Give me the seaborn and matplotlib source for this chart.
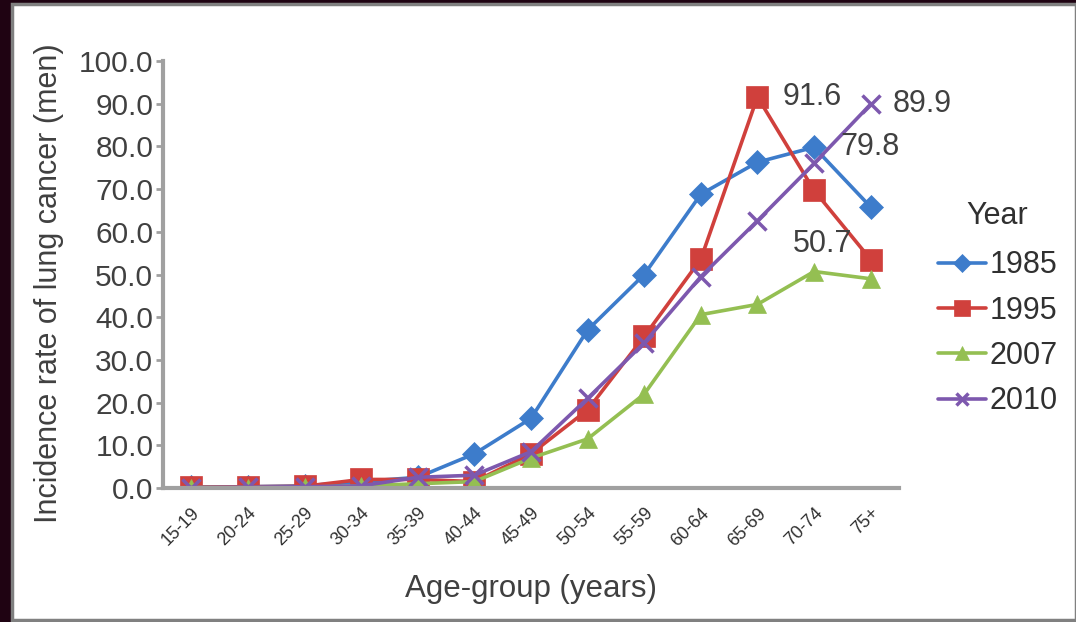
import matplotlib
matplotlib.use("Agg")
import matplotlib.pyplot as plt
from matplotlib.patches import Rectangle
import seaborn as sns
import pandas as pd

# age groups on the x axis
age_groups = ["15-19", "20-24", "25-29", "30-34", "35-39", "40-44", "45-49",
              "50-54", "55-59", "60-64", "65-69", "70-74", "75+"]

# incidence rate per year
rate_1985 = [0.2, 0.3, 0.5, 1.5, 2.5, 8.0, 16.3, 37.0, 50.0, 68.8, 76.3, 79.8, 65.8]
rate_1995 = [0.2, 0.3, 0.4, 2.0, 2.0, 1.5, 8.0, 18.3, 35.5, 53.6, 91.6, 69.7, 53.5]
rate_2007 = [0.1, 0.1, 0.2, 0.5, 1.0, 1.5, 7.0, 11.5, 22.0, 40.6, 43.0, 50.7, 49.0]
rate_2010 = [0.1, 0.2, 0.3, 0.5, 2.5, 3.0, 8.5, 21.0, 34.0, 49.5, 62.6, 76.0, 89.9]

years = ["1985", "1995", "2007", "2010"]
colors = ["#3D7CCB", "#D0403C", "#94BF52", "#7D58AE"]
markers = ["D", "s", "^", "x"]

df = pd.DataFrame({
    "age": age_groups * 4,
    "pos": list(range(len(age_groups))) * 4,
    "rate": rate_1985 + rate_1995 + rate_2007 + rate_2010,
    "Year": sum([[y] * len(age_groups) for y in years], []),
})

sns.set_style("white")
plt.rcParams["font.family"] = ["Liberation Sans", "DejaVu Sans"]

fig = plt.figure(figsize=(10.76, 6.22), dpi=100)
fig.patch.set_facecolor("#1f0312")
# white panel with thin gray frame
panel = Rectangle((12 / 1076, 2 / 622), 1 - 12 / 1076, 1 - 6 / 622,
                  transform=fig.transFigure, facecolor="white",
                  edgecolor="#808080", linewidth=2.5, zorder=-10)
fig.patches.append(panel)

ax = fig.add_axes([163 / 1076, 1 - 488 / 622, (899 - 163) / 1076, (488 - 61) / 622])
ax.set_facecolor("none")
ax.set_zorder(5)

msizes = {"1985": 12.5, "1995": 15.5, "2007": 13.5, "2010": 13}
for y, c, m in zip(years, colors, markers):
    sub = df[df["Year"] == y]
    sns.lineplot(data=sub, x="pos", y="rate", ax=ax, color=c, marker=m,
                 markersize=msizes[y], linewidth=2.6, label=y,
                 markeredgecolor=c, markeredgewidth=2.5 if m == "x" else 0.5)

ax.set_xlim(-0.5, 12.5)
ax.set_ylim(0, 100)
ax.set_yticks(range(0, 101, 10))
ax.set_yticklabels([f"{v:.1f}" for v in range(0, 101, 10)], fontsize=21.5, color="#404040")
ax.set_xticks(range(len(age_groups)))
ax.set_xticklabels(age_groups, rotation=45, ha="right", rotation_mode="anchor",
                   fontsize=13, color="#303030")
ax.tick_params(axis="y", length=5, width=2, color="#a0a0a0", pad=2, left=True)
ax.tick_params(axis="x", length=0, pad=12)

for side in ["top", "right"]:
    ax.spines[side].set_visible(False)
for side in ["left", "bottom"]:
    ax.spines[side].set_color("#a0a0a0")
    ax.spines[side].set_linewidth(3)

ax.set_xlabel("Age-group (years)", fontsize=22.5, color="#404040", labelpad=18)
ax.set_ylabel("Incidence rate of lung cancer (men)", fontsize=22, color="#404040")
ax.yaxis.set_label_coords(-0.135, 0.48)

# value labels
lab_style = dict(fontsize=22, color="#404040", textcoords="offset points")
ax.annotate("91.6", xy=(10, rate_1995[10]), xytext=(18, 0), va="center", ha="left", **lab_style)
ax.annotate("89.9", xy=(12, rate_2010[12]), xytext=(16, 0), va="center", ha="left", **lab_style)
ax.annotate("79.8", xy=(11, rate_1985[11]), xytext=(19, 0), va="center", ha="left", **lab_style)
ax.annotate("50.7", xy=(11, rate_2007[11]), xytext=(6, 20), va="center", ha="center", **lab_style)

leg = ax.legend(title="Year", loc="center left", frameon=False, fontsize=22, title_fontsize=22,
                handlelength=1.6, handletextpad=0.1, labelspacing=0.5, markerscale=0.7)
leg.set_bbox_to_anchor((1.015, 0.42), transform=ax.transAxes)
leg._legend_box.sep = 14
for t in leg.get_texts():
    t.set_color("#303030")
leg.get_title().set_color("#303030")

fig.savefig("out.png", dpi=100, facecolor=fig.get_facecolor())
